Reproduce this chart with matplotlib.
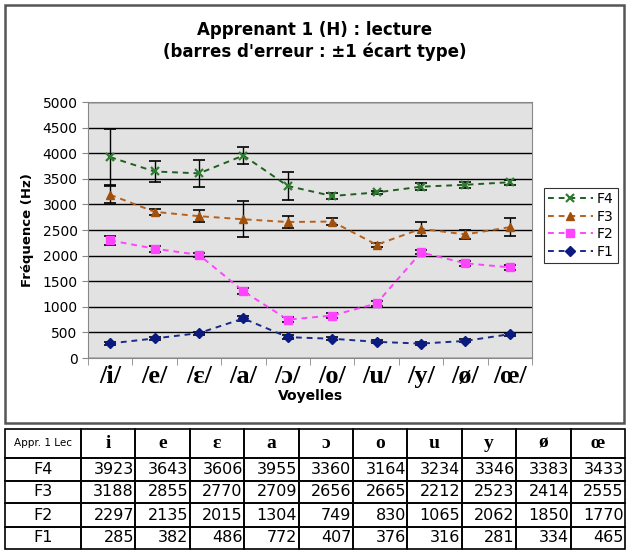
import matplotlib
matplotlib.use('Agg')
import matplotlib.pyplot as plt
from matplotlib.patches import Rectangle
import numpy as np

# data
vowels = ['i', 'e', 'ɛ', 'a', 'ɔ', 'o', 'u', 'y', 'ø', 'œ']
f4 = [3923, 3643, 3606, 3955, 3360, 3164, 3234, 3346, 3383, 3433]
f3 = [3188, 2855, 2770, 2709, 2656, 2665, 2212, 2523, 2414, 2555]
f2 = [2297, 2135, 2015, 1304, 749, 830, 1065, 2062, 1850, 1770]
f1 = [285, 382, 486, 772, 407, 376, 316, 281, 334, 465]
# standard deviations (estimated from the error bars)
sd4 = [540, 205, 265, 165, 265, 50, 35, 70, 60, 50]
sd3 = [170, 60, 120, 350, 110, 70, 40, 135, 90, 170]
sd2 = [95, 60, 40, 60, 50, 50, 40, 40, 50, 50]
sd1 = [30, 30, 30, 40, 35, 30, 30, 30, 30, 30]

W, H = 626, 551
fig = plt.figure(figsize=(W/100, H/100), dpi=100)

def fx(px): return px / W
def fy(py): return 1 - py / H

# chart frame
fig.patches.append(Rectangle((fx(5), fy(423)), fx(619), 418/H, transform=fig.transFigure,
                             fill=False, edgecolor='#555555', lw=1.8))

fig.text(fx(315), fy(30), "Apprenant 1 (H) : lecture", ha='center', va='center',
         fontsize=12, fontweight='bold', family='DejaVu Sans')
fig.text(fx(315), fy(52), "(barres d'erreur : ±1 écart type)", ha='center', va='center',
         fontsize=12, fontweight='bold', family='DejaVu Sans')

ax = fig.add_axes([fx(88), fy(358), 444/W, 256/H])
ax.set_facecolor('#e2e2e2')
x = np.arange(len(vowels))

series = [
    ('F4', f4, sd4, '#1f5f1f', 'x', '#2e7d32'),
    ('F3', f3, sd3, '#b8601a', '^', '#a0500a'),
    ('F2', f2, sd2, '#ff44ff', 's', '#ff44ff'),
    ('F1', f1, sd1, '#1a2a8a', 'D', '#0a1a80'),
]
handles = []
for name, vals, sd, lc, mk, mc in series:
    ax.errorbar(x, vals, yerr=sd, fmt='none', ecolor='black', elinewidth=1,
                capsize=4.5, capthick=1.2, zorder=3)
    h, = ax.plot(x, vals, linestyle=(0, (3, 2.5)), color=lc, lw=1.4, marker=mk,
                 markersize=6 if mk != 'D' else 5, markerfacecolor=mc,
                 markeredgecolor=mc, markeredgewidth=1.6 if mk == 'x' else 1,
                 label=name, zorder=4)
    handles.append(h)

ax.set_xlim(-0.5, 9.5)
ax.set_ylim(0, 5000)
ax.set_yticks(np.arange(0, 5001, 500))
ax.yaxis.grid(True, color='black', lw=1)
ax.set_axisbelow(True)
ax.tick_params(axis='y', labelsize=10, length=4, color='#888888')
ax.set_xticks(x)
ax.set_xticklabels(['/' + v + '/' for v in vowels], family='Liberation Serif',
                   fontweight='bold', fontsize=19)
ax.set_xticks(np.arange(-0.5, 10, 1), minor=True)
ax.tick_params(axis='x', which='major', length=0, pad=5)
ax.tick_params(axis='x', which='minor', length=5, color='#888888')
for s in ax.spines.values():
    s.set_color('#888888')
ax.set_ylabel('Fréquence (Hz)', fontweight='bold', fontsize=9.5, labelpad=6)
ax.set_xlabel('Voyelles', fontweight='bold', fontsize=10, labelpad=1)

leg = fig.legend(handles=handles, loc='upper left', bbox_to_anchor=(fx(544), fy(188)),
                 fontsize=10, frameon=True, fancybox=False, edgecolor='black',
                 borderpad=0.3, labelspacing=0.25, handlelength=3.2, handletextpad=0.3,
                 borderaxespad=0)
leg.get_frame().set_linewidth(0.8)

# table
col_w0 = 76
col_w = 54.4
row_tops = [429, 458, 481, 503, 527, 549]
rows = [('F4', f4), ('F3', f3), ('F2', f2), ('F1', f1)]
x0 = 5
for r in range(5):
    y_top, y_bot = row_tops[r], row_tops[r + 1]
    for c in range(11):
        if c == 0:
            cx, cw = x0, col_w0
        else:
            cx, cw = x0 + col_w0 + (c - 1) * col_w, col_w
        fig.patches.append(Rectangle((fx(cx), fy(y_bot)), cw / W, (y_bot - y_top) / H,
                                     transform=fig.transFigure, fill=False,
                                     edgecolor='black', lw=1.2))
        ym = fy((y_top + y_bot) / 2)
        if r == 0:
            if c == 0:
                fig.text(fx(cx + cw / 2), ym, 'Appr. 1 Lec', ha='center', va='center',
                         fontsize=7.5)
            else:
                fig.text(fx(cx + cw / 2), ym, vowels[c - 1], ha='center', va='center',
                         fontsize=14, fontweight='bold', family='Liberation Serif')
        else:
            name, vals = rows[r - 1]
            if c == 0:
                fig.text(fx(cx + cw / 2), ym, name, ha='center', va='center', fontsize=11.5)
            else:
                fig.text(fx(cx + cw - 1.5), ym, str(vals[c - 1]), ha='right', va='center',
                         fontsize=11.5)

fig.savefig('out.png', dpi=100)
